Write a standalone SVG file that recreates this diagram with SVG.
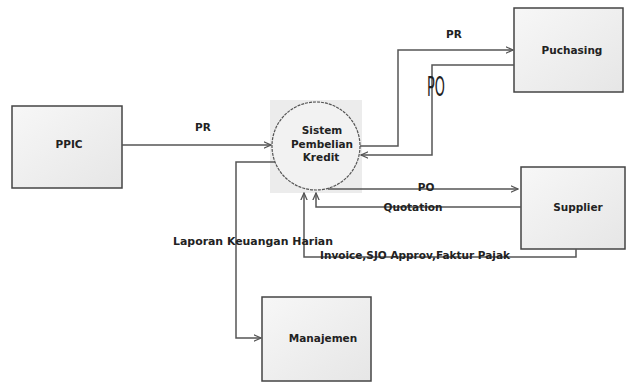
<svg xmlns="http://www.w3.org/2000/svg" width="626" height="383" viewBox="0 0 626 383">
<defs>
<linearGradient id="g" x1="0" y1="0" x2="1" y2="1"><stop offset="0" stop-color="#f7f7f7"/><stop offset="1" stop-color="#e6e6e6"/></linearGradient>
<marker id="a" viewBox="0 0 10 10" refX="9" refY="5" markerWidth="8" markerHeight="8" markerUnits="userSpaceOnUse" orient="auto"><path d="M0,1 L9,5 L0,9" fill="none" stroke="#555" stroke-width="1.6"/></marker>
</defs>
<style>
.box{fill:url(#g);stroke:#444;stroke-width:1.5}
.t{font-family:"DejaVu Sans",sans-serif;font-weight:bold;font-size:10.5px;fill:#222;text-anchor:middle}
.l{font-family:"DejaVu Sans",sans-serif;font-weight:bold;font-size:10.5px;fill:#222}
.c{fill:none;stroke:#555;stroke-width:1.5;marker-end:url(#a)}
</style>
<rect width="626" height="383" fill="#fff"/>
<g id="ppic"><rect class="box" x="12" y="106" width="110" height="82"/><text class="t" x="69" y="148">PPIC</text></g>
<g id="purchasing"><rect class="box" x="514" y="8" width="109" height="84"/><text class="t" x="572" y="54">Puchasing</text></g>
<g id="supplier"><rect class="box" x="521" y="167" width="104" height="82"/><text class="t" x="578" y="211">Supplier</text></g>
<g id="manajemen"><rect class="box" x="262" y="297" width="109" height="84"/><text class="t" x="323" y="342">Manajemen</text></g>
<g id="sistem"><rect x="270" y="100" width="92" height="93" fill="#ececec"/><circle cx="316" cy="146" r="44" fill="#f2f2f2" stroke="#555" stroke-width="1.2" stroke-dasharray="3,1"/>
<text class="t" x="322" y="134">Sistem</text><text class="t" x="322" y="148">Pembelian</text><text class="t" x="321" y="161">Kredit</text></g>
<g id="connectors">
<path class="c" d="M122,145 H271"/>
<path class="c" d="M360,146 H398 V50 H513"/>
<path class="c" d="M514,65 H432 V155 H361"/>
<path class="c" d="M328,189 H518"/>
<path class="c" d="M521,207 H316 V193"/>
<path class="c" d="M576,249 V257 H304 V193"/>
<path class="c" d="M275,162 H236 V338 H261"/>
</g>
<g id="labels">
<text class="t" x="203" y="131">PR</text>
<text class="t" x="454" y="38">PR</text>
<text x="427" y="96" font-family="DejaVu Sans Condensed,sans-serif" font-size="26" fill="#222" transform="translate(427 0) scale(0.55 1) translate(-427 0)">PO</text>
<text class="t" x="426" y="191">PO</text>
<text class="t" x="413" y="211">Quotation</text>
<text class="l" x="320" y="259" textLength="190" lengthAdjust="spacingAndGlyphs">Invoice,SJO Approv,Faktur Pajak</text>
<text class="l" x="173" y="245" textLength="160" lengthAdjust="spacingAndGlyphs">Laporan Keuangan Harian</text>
</g>
</svg>
